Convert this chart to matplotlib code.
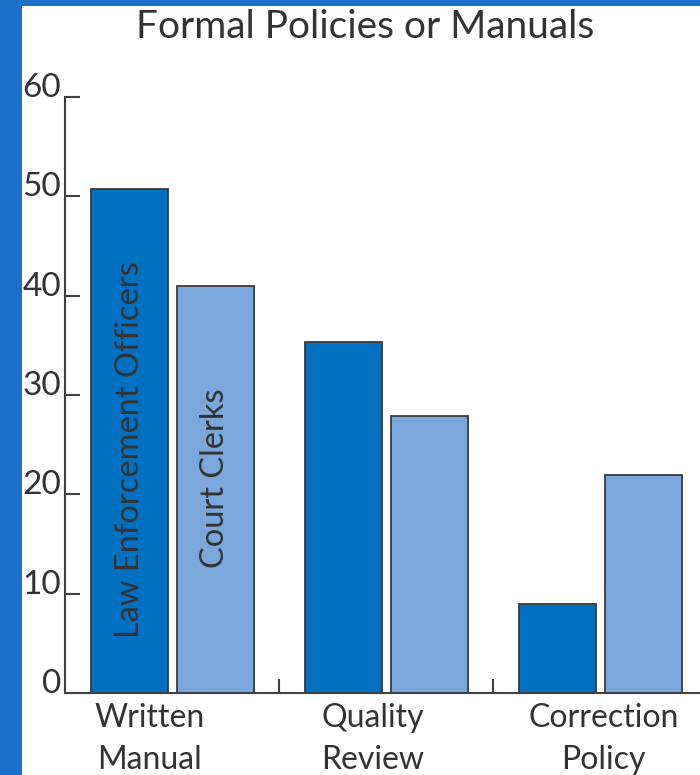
import numpy as np
import matplotlib
matplotlib.use('Agg')
import matplotlib.pyplot as plt
from matplotlib.patches import Rectangle
from matplotlib.transforms import ScaledTranslation

categories = ['Written\nManual', 'Quality\nReview', 'Correction\nPolicy']
law_enforcement = [50.7, 35.3, 9.0]
court_clerks = [41.0, 27.9, 21.9]
series_names = ['Law Enforcement Officers', 'Court Clerks']
y_ticks = [0, 10, 20, 30, 40, 50, 60]

dark_blue = '#0070c0'
light_blue = '#7ba7dc'
edge_grey = '#3a3a3a'
text_grey = '#333333'
frame_blue = '#1a6fc9'

plt.rcParams['font.family'] = ['Lato', 'DejaVu Sans']

fig = plt.figure(figsize=(7, 7.75), dpi=100)
fig.patch.set_facecolor('white')

# blue frame round the picture (left and top)
fig.patches.append(Rectangle((0, 0), 22 / 700, 1, transform=fig.transFigure,
                             facecolor=frame_blue, edgecolor='none', zorder=0))
fig.patches.append(Rectangle((0, 1 - 6 / 775), 1, 6 / 775, transform=fig.transFigure,
                             facecolor=frame_blue, edgecolor='none', zorder=0))

ax = fig.add_axes([65 / 700, 82 / 775, 1 - 65 / 700 + 0.01, 596 / 775])

x = np.arange(len(categories))
w = 0.36
off = 0.2
ax.bar(x - off, law_enforcement, w, color=dark_blue, edgecolor=edge_grey, linewidth=1.3, zorder=2)
ax.bar(x + off, court_clerks, w, color=light_blue, edgecolor=edge_grey, linewidth=1.3, zorder=2)

# series names written inside the first pair of bars
ax.text(x[0] - off, 24.5, series_names[0], rotation=90, ha='center', va='center',
        fontsize=23.5, color=text_grey, zorder=3)
ax.text(x[0] + off, 21.6, series_names[1], rotation=90, ha='center', va='center',
        fontsize=23.5, color=text_grey, zorder=3)

ax.set_xlim(-0.502, 2.498)
ax.set_ylim(0, 60)

for s in ['top', 'right']:
    ax.spines[s].set_visible(False)
for s in ['left', 'bottom']:
    ax.spines[s].set_color('#404040')
    ax.spines[s].set_linewidth(1.5)

ax.set_yticks(y_ticks)
ax.set_yticklabels([str(t) for t in y_ticks], va='baseline')
ax.tick_params(axis='y', direction='in', length=11, width=1.5, color='#404040',
               labelsize=24, labelcolor=text_grey, pad=3)

ax.set_xticks(x)
ax.set_xticklabels(categories, linespacing=1.5)
ax.tick_params(axis='x', which='major', length=0, labelsize=23, labelcolor=text_grey, pad=7)
ax.set_xticks([0.5, 1.5], minor=True)
ax.tick_params(axis='x', which='minor', direction='in', length=10, width=1.5, color='#404040')

shifts = [-23, -14, 3]
for lab, dx in zip(ax.get_xticklabels(), shifts):
    lab.set_transform(lab.get_transform() + ScaledTranslation(dx / 100, 0, fig.dpi_scale_trans))

fig.text(365 / 700, 1 - 27 / 775, 'Formal Policies or Manuals', ha='center', va='center',
         fontsize=28, color=text_grey)

fig.savefig('out.png', dpi=100)
